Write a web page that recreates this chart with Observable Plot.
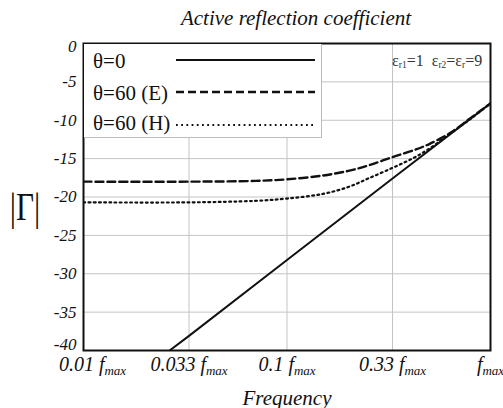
<!DOCTYPE html>
<html>
<head>
<meta charset="utf-8">
<script src="https://cdn.jsdelivr.net/npm/d3@7"></script>
<script src="https://cdn.jsdelivr.net/npm/@observablehq/plot@0.6"></script>
<style>
  body { margin: 0; background: #fff; }
  #wrap { position: relative; width: 503px; height: 408px; overflow: hidden; font-family: "Liberation Serif", "DejaVu Serif", serif; }
  #title { position: absolute; left: 296px; top: 6px; transform: translateX(-50%); font-size: 21px; font-style: italic; white-space: nowrap; color: #111; }
  #chart { position: absolute; left: 0; top: 34px; }
  #ylab { position: absolute; left: 25px; top: 207px; transform: translate(-50%, -50%) scale(0.78, 1); font-size: 40px; line-height: 40px; color: #111; white-space: nowrap; }
  #legend { position: absolute; left: 84px; top: 44px; }
  #eps { position: absolute; left: 392px; top: 52px; font-size: 16px; color: #333; white-space: nowrap; }
  #eps sub { font-size: 9.5px; vertical-align: -2px; }
</style>
</head>
<body>
<div id="wrap">
  <div id="title">Active reflection coefficient</div>
  <div id="chart"></div>
  <div id="ylab">|Γ|</div>
  <div id="legend"></div>
  <div id="eps">ε<sub>r1</sub>=1&nbsp; ε<sub>r2</sub>=ε<sub>r</sub>=9</div>
</div>
<script>
// ---- data ----
const xTicks = [0.01, 0.033, 0.1, 0.33, 1];
const xTickLabels = ["0.01", "0.033", "0.1", "0.33", ""];
const yTicks = [0, -5, -10, -15, -20, -25, -30, -35, -40];

const freqSolid = [0.0265, 0.033, 0.1, 0.33, 1];
const gammaSolid = [-40, -38.1, -28.2, -17.6, -7.8];

const freqE = [0.01, 0.033, 0.07, 0.1, 0.15, 0.2, 0.25, 0.33, 0.43, 0.5, 0.63, 0.8, 1];
const gammaE = [-18, -18, -17.9, -17.7, -17.2, -16.6, -15.9, -14.8, -13.8, -13.1, -11.7, -9.7, -7.8];

const freqH = [0.01, 0.033, 0.07, 0.1, 0.15, 0.2, 0.25, 0.33, 0.42, 0.5, 0.63, 0.8, 1];
const gammaH = [-20.7, -20.7, -20.5, -20.2, -19.6, -18.7, -17.6, -16.2, -14.9, -13.7, -11.8, -9.8, -7.8];

const seriesNames = ["θ=0", "θ=60 (E)", "θ=60 (H)"];

const toRows = (fs, gs) => fs.map((f, i) => ({f, g: gs[i]}));
const solid = toRows(freqSolid, gammaSolid);
const dashE = toRows(freqE, gammaE);
const dotH = toRows(freqH, gammaH);

const serif = "Liberation Serif, serif";
const xLabelOf = d => xTickLabels[xTicks.indexOf(d)] + "|";
const yAxisOpts = { tickSize: 0, tickPadding: 7, tickFormat: d => String(d), label: null,
  fontSize: 17, fontFamily: serif, fontStyle: "italic", fill: "#111" };

const chart = Plot.plot({
  width: 503,
  height: 374,
  marginTop: 9,
  marginBottom: 58,
  marginLeft: 83,
  marginRight: 13,
  style: { fontFamily: serif, fontStyle: "italic", fontSize: "17px", color: "#111", overflow: "visible", background: "transparent" },
  x: { type: "log", domain: [0.01, 1] },
  y: { domain: [-40, 0] },
  marks: [
    Plot.gridX({ ticks: [0.033, 0.1, 0.33], stroke: "#c4c4c4", strokeOpacity: 1, strokeWidth: 1 }),
    Plot.gridY({ ticks: [-5, -10, -15, -20, -25, -30, -35], stroke: "#c4c4c4", strokeOpacity: 1, strokeWidth: 1 }),
    Plot.line(solid, { x: "f", y: "g", stroke: "#111", strokeWidth: 2, clip: true }),
    Plot.line(dashE, { x: "f", y: "g", stroke: "#111", strokeWidth: 2.4, strokeDasharray: "8,4", curve: "catmull-rom", clip: true }),
    Plot.line(dotH, { x: "f", y: "g", stroke: "#111", strokeWidth: 2.2, strokeDasharray: "1.8,3.4", curve: "catmull-rom", clip: true }),
    Plot.frame({ stroke: "#111", strokeWidth: 2 }),
    Plot.axisY({ ...yAxisOpts, ticks: yTicks.slice(1, -1) }),
    Plot.axisY({ ...yAxisOpts, ticks: yTicks.slice(0, 1), dy: 3 }),
    Plot.axisY({ ...yAxisOpts, ticks: yTicks.slice(-1), dy: -6 }),
    Plot.axisX({ ticks: xTicks, tickSize: 0, tickPadding: 6, tickFormat: xLabelOf, label: null,
      fontSize: 20, fontFamily: serif, fontStyle: "italic", fill: "#111" }),
    Plot.text(["Frequency"], { frameAnchor: "bottom", dy: 54, fontSize: 21, fontFamily: serif, fontStyle: "italic", fill: "#111" })
  ]
});
document.getElementById("chart").appendChild(chart);

// format x tick labels as "value f_max"
const ns = "http://www.w3.org/2000/svg";
chart.querySelectorAll("text").forEach(t => {
  const s = t.textContent;
  if (!s.endsWith("|")) return;
  const p = s.slice(0, -1);
  t.textContent = "";
  const add = (str, attrs = {}) => {
    const ts = document.createElementNS(ns, "tspan");
    ts.textContent = str;
    for (const k in attrs) ts.setAttribute(k, attrs[k]);
    t.appendChild(ts);
  };
  if (p) add(p + " ");
  add("f");
  add("max", { "font-size": "13", dy: "4" });
  if (p === xTickLabels[0]) t.setAttribute("dx", "9");
});

// legend (white box in the upper-left corner of the frame)
const lg = d3.select("#legend").append("svg").attr("width", 238).attr("height", 94);
lg.append("rect").attr("width", 238).attr("height", 94).attr("fill", "#fff");
lg.append("line").attr("x1", 237.5).attr("x2", 237.5).attr("y1", 0).attr("y2", 94).attr("stroke", "#bdbdbd");
lg.append("line").attr("x1", 0).attr("x2", 238).attr("y1", 93.5).attr("y2", 93.5).attr("stroke", "#bdbdbd");
const rowsY = [24, 56, 86];
const lineY = [16, 48, 81];
const dashes = [null, "8,4", "1.8,3.4"];
const widths = [2, 2.4, 2.2];
seriesNames.forEach((name, i) => {
  lg.append("text").attr("x", 9).attr("y", rowsY[i]).attr("font-size", 21).attr("fill", "#111")
    .attr("font-family", serif).text(name);
  const l = lg.append("line").attr("x1", 92).attr("x2", 231).attr("y1", lineY[i]).attr("y2", lineY[i])
    .attr("stroke", "#111").attr("stroke-width", widths[i]);
  if (dashes[i]) l.attr("stroke-dasharray", dashes[i]);
});
</script>
</body>
</html>
